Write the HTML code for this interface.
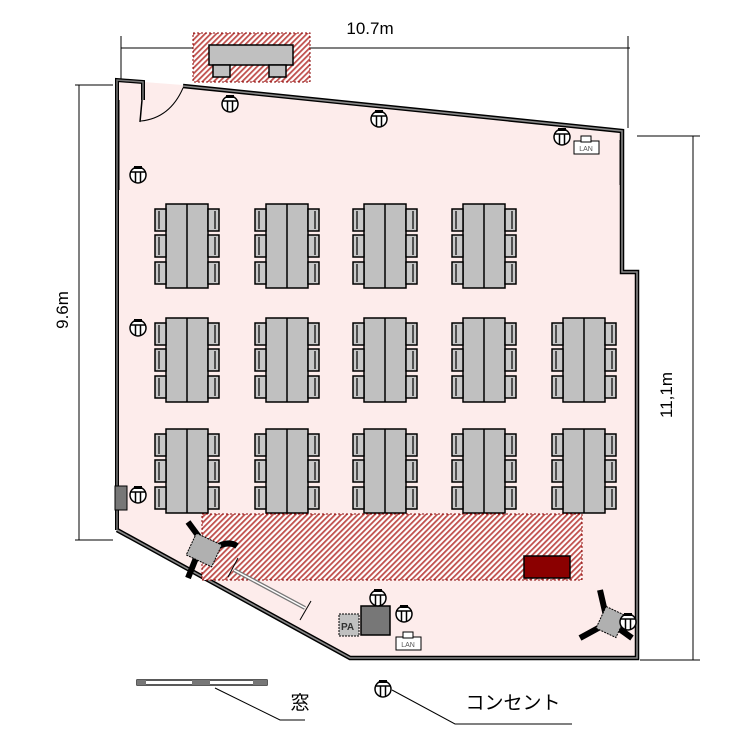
<!DOCTYPE html>
<html><head><meta charset="utf-8"><style>
html,body{margin:0;padding:0;background:#fff}
svg{display:block}
text{font-family:"Liberation Sans","Noto Sans CJK JP",sans-serif}
</style></head><body>
<svg width="750" height="750" viewBox="0 0 750 750" xmlns="http://www.w3.org/2000/svg">
<defs>
<pattern id="h" patternUnits="userSpaceOnUse" width="4" height="4" patternTransform="rotate(45)">
<rect width="4" height="4" fill="#fff"/><rect width="1.8" height="4" fill="#c0504d"/>
</pattern>
<g id="o"><circle r="8" fill="#fff" stroke="#000" stroke-width="1.5"/><path d="M-8,-3h16M-2.5,-3v10M2.5,-3v10" stroke="#000" stroke-width="1.5"/><rect x="-4" y="-9" width="8" height="3" fill="#000"/></g>
<g id="t">
<rect x="0" y="0" width="42" height="84" fill="#c0c0c0" stroke="#000" stroke-width="1.5"/>
<line x1="21" y1="0" x2="21" y2="84" stroke="#000" stroke-width="1.5"/>
<g fill="#c8c8c8" stroke="#000" stroke-width="1.5">
<rect x="-11" y="5" width="11" height="22"/><rect x="-11" y="31" width="11" height="22"/><rect x="-11" y="58" width="11" height="22"/>
<rect x="42" y="5" width="11" height="22"/><rect x="42" y="31" width="11" height="22"/><rect x="42" y="58" width="11" height="22"/>
</g>
<g stroke="#000" stroke-width="1.2"><line x1="-7" y1="7" x2="-7" y2="25"/><line x1="-7" y1="33" x2="-7" y2="51"/><line x1="-7" y1="60" x2="-7" y2="78"/>
<line x1="49" y1="7" x2="49" y2="25"/><line x1="49" y1="33" x2="49" y2="51"/><line x1="49" y1="60" x2="49" y2="78"/></g>
</g>
</defs>

<polygon points="117,80 183,85 622,130 622,272 637,272 637,658 350,658 117,530" fill="#fdeceb"/>

<g stroke="#000" stroke-width="1">
<line x1="121" y1="48" x2="630" y2="48"/><line x1="121" y1="36" x2="121" y2="80"/><line x1="628" y1="36" x2="628" y2="128"/>
<line x1="79" y1="85" x2="79" y2="540"/><line x1="75" y1="85" x2="113" y2="85"/><line x1="75" y1="540" x2="113" y2="540"/>
<line x1="693" y1="136" x2="693" y2="660"/><line x1="637" y1="136" x2="700" y2="136"/><line x1="640" y1="660" x2="700" y2="660"/>
</g>
<text x="370" y="34" font-size="17" text-anchor="middle">10.7m</text>
<text x="0" y="0" font-size="17" text-anchor="middle" transform="translate(68,310) rotate(-90)">9.6m</text>
<text x="0" y="0" font-size="17" text-anchor="middle" transform="translate(672,395) rotate(-90)">11,1m</text>

<rect x="193" y="33" width="117" height="49" fill="url(#h)" stroke="#800" stroke-width="1" stroke-dasharray="2,2"/>
<rect x="209" y="45" width="84" height="20" fill="#c0c0c0" stroke="#000" stroke-width="1.5"/>
<rect x="213" y="65" width="17" height="12" fill="#c0c0c0" stroke="#000" stroke-width="1.5"/>
<rect x="269" y="65" width="17" height="12" fill="#c0c0c0" stroke="#000" stroke-width="1.5"/>

<g fill="none" stroke="#000" stroke-linejoin="miter">
<path d="M117,530 L117,80 L143,82 L143,100" stroke-width="4"/>
<path d="M117,530 L117,80 L143,82 L143,100" stroke="#777" stroke-width="1.5"/>
<path d="M142,100 L140,122" stroke-width="1.5"/>
<path d="M141,121 Q170,118 183,88" stroke-width="1"/>
<path d="M183,86 L622,131 L622,272 L637,272 L637,658 L350,658 L117,530" stroke-width="4.5"/>
<path d="M183,86 L622,131 L622,272 L637,272 L637,658 L350,658 L117,530" stroke="#888" stroke-width="1.6"/>
</g>
<line x1="119" y1="100" x2="119" y2="190" stroke="#000" stroke-width="1"/>
<line x1="620" y1="140" x2="620" y2="185" stroke="#000" stroke-width="1"/>

<use href="#t" x="166" y="204"/><use href="#t" x="266" y="204"/><use href="#t" x="364" y="204"/><use href="#t" x="463" y="204"/>
<use href="#t" x="166" y="318"/><use href="#t" x="266" y="318"/><use href="#t" x="364" y="318"/><use href="#t" x="463" y="318"/><use href="#t" x="563" y="318"/>
<use href="#t" x="166" y="429"/><use href="#t" x="266" y="429"/><use href="#t" x="364" y="429"/><use href="#t" x="463" y="429"/><use href="#t" x="563" y="429"/>

<rect x="202" y="514" width="380" height="66" fill="url(#h)" stroke="#800" stroke-width="1" stroke-dasharray="2,2"/>
<rect x="524" y="556" width="46" height="22" fill="#8b0000" stroke="#000" stroke-width="1.5"/>

<rect x="115" y="486" width="12" height="24" fill="#777" stroke="#000" stroke-width="1"/>

<path d="M188,522 L205,545" stroke="#000" stroke-width="6"/>
<path d="M215,548 Q228,540 237,546" stroke="#000" stroke-width="6" fill="none"/>
<path d="M196,558 L188,578" stroke="#000" stroke-width="6"/>
<rect x="190" y="538" width="28" height="24" fill="#b0b0b0" stroke="#000" stroke-dasharray="2,1" transform="rotate(25 204 550)"/>
<path d="M234,570 L305,608" stroke="#777" stroke-width="4"/>
<path d="M234,570 L305,608" stroke="#fff" stroke-width="1.5"/>
<line x1="228" y1="577" x2="238" y2="558" stroke="#000" stroke-width="1"/>
<line x1="300" y1="620" x2="311" y2="601" stroke="#000" stroke-width="1"/>

<path d="M600,590 L606,616" stroke="#000" stroke-width="6"/>
<path d="M602,626 L580,638" stroke="#000" stroke-width="6"/>
<path d="M618,628 L632,638" stroke="#000" stroke-width="6"/>
<rect x="600" y="610" width="22" height="24" fill="#b0b0b0" stroke="#000" stroke-dasharray="2,1" transform="rotate(25 611 622)"/>

<rect x="339" y="614" width="20" height="22" fill="#c0c0c0" stroke="#000" stroke-dasharray="2,1"/>
<text x="341" y="630" font-size="10" font-weight="bold" fill="#333">PA</text>
<rect x="361" y="606" width="29" height="29" fill="#777" stroke="#000" stroke-width="1.5"/>
<rect x="396" y="637" width="25" height="13" fill="#fff" stroke="#000"/>
<rect x="403" y="632" width="10" height="6" fill="#fff" stroke="#000"/>
<text x="408" y="647" font-size="7" text-anchor="middle" fill="#555">LAN</text>
<rect x="574" y="141" width="25" height="13" fill="#fff" stroke="#000"/>
<rect x="581" y="136" width="10" height="6" fill="#fff" stroke="#000"/>
<text x="586" y="151" font-size="7" text-anchor="middle" fill="#555">LAN</text>

<use href="#o" x="230" y="104"/><use href="#o" x="379" y="119"/><use href="#o" x="562" y="137"/>
<use href="#o" x="138" y="175"/><use href="#o" x="138" y="328"/><use href="#o" x="138" y="495"/>
<use href="#o" x="378" y="598"/><use href="#o" x="404" y="614"/><use href="#o" x="628" y="622"/>
<use href="#o" x="383" y="689"/>

<rect x="137" y="680" width="130" height="5" fill="#fff" stroke="#000" stroke-width="1.3"/>
<rect x="137" y="680" width="9" height="5" fill="#777"/><rect x="192" y="680" width="18" height="5" fill="#777"/><rect x="253" y="680" width="14" height="5" fill="#777"/>
<polyline points="215,688 280,720 305,720" fill="none" stroke="#000" stroke-width="1"/>
<text x="300" y="709" font-size="19" text-anchor="middle">窓</text>
<polyline points="392,690 455,724 572,724" fill="none" stroke="#000" stroke-width="1"/>
<text x="513" y="709" font-size="19" text-anchor="middle">コンセント</text>
</svg>
</body></html>
